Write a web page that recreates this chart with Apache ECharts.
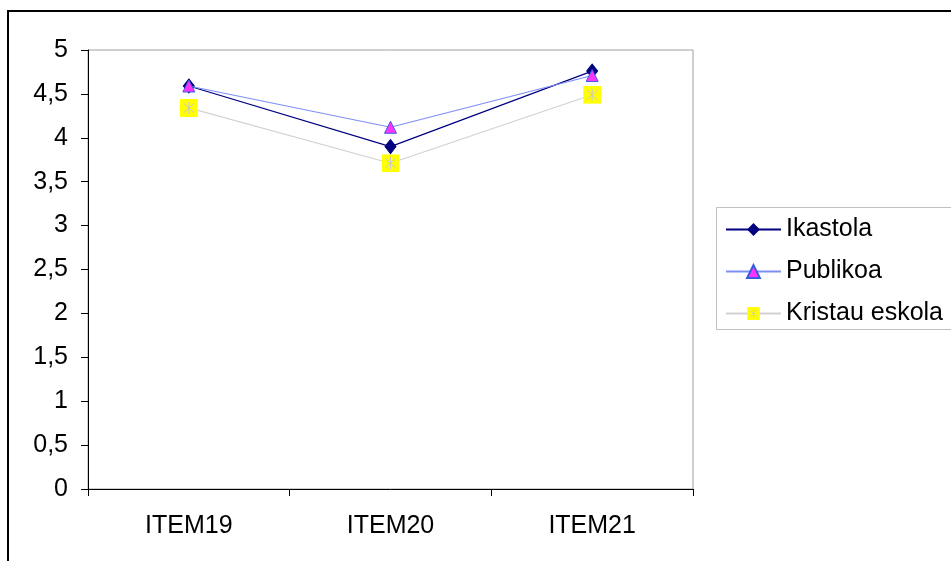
<!DOCTYPE html>
<html>
<head>
<meta charset="utf-8">
<script src="https://cdn.jsdelivr.net/npm/echarts@6/dist/echarts.min.js"></script>
<style>
html,body{margin:0;padding:0;background:#fff;}
#chart{width:951px;height:561px;}
</style>
</head>
<body>
<div id="chart"></div>
<script>
const categories = ['ITEM19', 'ITEM20', 'ITEM21'];
const ikastola = [4.59, 3.90, 4.76];
const publikoa = [4.59, 4.12, 4.71];
const kristau = [4.34, 3.71, 4.49];
const seriesNames = ['Ikastola', 'Publikoa', 'Kristau eskola'];
const yMin = 0, yMax = 5, yStep = 0.5;

const FONT = '"Liberation Sans", Arial, sans-serif';
const FS = 25;

const kristauSvg = "<svg xmlns='http://www.w3.org/2000/svg' width='36' height='36'>" +
  "<rect width='36' height='36' fill='#ffff00'/>" +
  "<path d='M18 6V30M8 9L28 27M28 9L8 27' stroke='#c8c8c8' stroke-width='2' fill='none'/></svg>";
const kristauSymbol = 'image://data:image/svg+xml;charset=utf-8,' + encodeURIComponent(kristauSvg);

const chart = echarts.init(document.getElementById('chart'), null, {renderer: 'canvas'});
chart.setOption({
  backgroundColor: '#ffffff',
  animation: false,
  textStyle: {fontFamily: FONT},
  grid: {left: 88, top: 50, right: 258, bottom: 72, show: true, borderColor: '#a0a0a0', borderWidth: 1, backgroundColor: 'transparent'},
  graphic: [
    {type: 'rect', shape: {x: 8, y: 11, width: 1000, height: 600}, style: {fill: 'none', stroke: '#000', lineWidth: 2}, z: 0},
    {type: 'rect', shape: {x: 716.5, y: 207.5, width: 300, height: 122}, style: {fill: '#fff', stroke: '#c0c0c0', lineWidth: 1}, z: 1}
  ],
  legend: {
    orient: 'vertical',
    left: 725, top: 217,
    padding: 0,
    itemWidth: 55, itemHeight: 16,
    itemGap: 17,
    textStyle: {fontFamily: FONT, fontSize: FS, color: '#000', lineHeight: 20},
    data: seriesNames,
    z: 5
  },
  xAxis: {
    type: 'category',
    data: categories,
    boundaryGap: true,
    axisLine: {lineStyle: {color: '#000', width: 1}},
    axisTick: {show: true, length: 7, lineStyle: {color: '#000'}},
    axisLabel: {fontFamily: FONT, fontSize: FS, color: '#000', margin: 25},
    splitLine: {show: false}
  },
  yAxis: {
    type: 'value',
    min: yMin, max: yMax, interval: yStep,
    axisLine: {show: true, lineStyle: {color: '#000', width: 1}},
    axisTick: {show: true, length: 7, lineStyle: {color: '#000'}},
    axisLabel: {fontFamily: FONT, fontSize: FS, color: '#000', margin: 20,
      formatter: v => String(v).replace('.', ',')},
    splitLine: {show: false}
  },
  series: [
    {
      name: seriesNames[0], type: 'line', data: ikastola,
      symbol: 'diamond', symbolSize: [11, 14],
      lineStyle: {color: '#000080', width: 1.2},
      itemStyle: {color: '#000080', borderColor: '#000080'},
      z: 3
    },
    {
      name: seriesNames[1], type: 'line', data: publikoa,
      symbol: 'triangle', symbolSize: [12, 12],
      lineStyle: {color: '#7f8ff5', width: 1.2},
      itemStyle: {color: '#ff33ff', borderColor: '#3a5ae0', borderWidth: 1},
      z: 4
    },
    {
      name: seriesNames[2], type: 'line', data: kristau,
      symbol: kristauSymbol, symbolSize: [18, 18],
      lineStyle: {color: '#d4d0d4', width: 1.2},
      itemStyle: {color: '#ffff00'},
      z: 5
    }
  ]
});
</script>
</body>
</html>
